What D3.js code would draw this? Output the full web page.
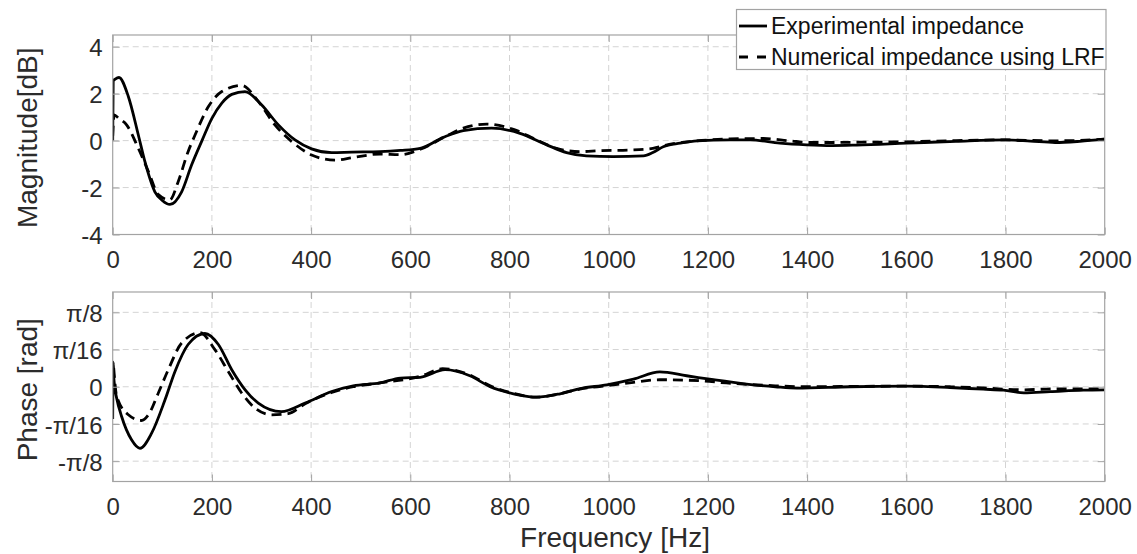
<!DOCTYPE html>
<html>
<head>
<meta charset="utf-8">
<script src="https://cdn.jsdelivr.net/npm/d3@7"></script>
<style>
  html, body { margin: 0; padding: 0; background: #fff; }
  svg { display: block; font-family: "Liberation Sans", Arial, Helvetica, sans-serif; }
</style>
</head>
<body>
<svg id="chart" width="1137" height="554"></svg>
<script>
// ---- data ----
const freqTicks = [0, 200, 400, 600, 800, 1000, 1200, 1400, 1600, 1800, 2000];
const magTicks = [-4, -2, 0, 2, 4];
const phaseTickValues = [-Math.PI / 8, -Math.PI / 16, 0, Math.PI / 16, Math.PI / 8];
const phaseTickLabels = ["-π/8", "-π/16", "0", "π/16", "π/8"];
const seriesNames = ["Experimental impedance", "Numerical impedance using LRF"];

const magExpFreq = [0, 1, 5, 12.7, 31.5, 51.7, 65, 85, 100, 115.5, 139, 159, 180, 200, 220, 240, 266.7, 300, 334, 367.5, 401, 441.5, 482, 539, 580, 620, 666.5, 707, 764, 821, 875, 915, 955, 1009, 1070, 1089, 1110, 1144, 1178, 1245, 1285, 1345, 1399, 1450, 1500, 1600, 1700, 1800, 1850, 1900, 1950, 2000];
const magExpVal = [0, 2.55, 2.62, 2.69, 1.88, 0.24, -0.9, -2.18, -2.55, -2.72, -2.18, -1.04, 0.0, 0.95, 1.6, 1.97, 2.09, 1.53, 0.67, 0.03, -0.35, -0.51, -0.49, -0.47, -0.42, -0.33, 0.14, 0.43, 0.53, 0.31, -0.18, -0.51, -0.65, -0.68, -0.65, -0.51, -0.26, -0.11, -0.01, 0.03, 0.03, -0.11, -0.18, -0.21, -0.19, -0.11, -0.03, 0.03, -0.02, -0.08, -0.03, 0.06];

const magNumFreq = [0, 3, 12, 28, 51.7, 72, 92, 115, 132, 152, 166, 193, 220, 260, 293.5, 327, 361, 401, 448, 485, 539, 580, 620, 673, 707, 754, 808, 855, 895, 942, 982, 1043, 1089, 1122, 1163, 1245, 1312, 1365, 1406, 1453, 1500, 1600, 1700, 1800, 1900, 2000];
const magNumVal = [0.2, 1.1, 0.95, 0.67, -0.33, -1.32, -2.3, -2.53, -1.75, -0.47, 0.24, 1.45, 2.09, 2.35, 1.67, 0.67, -0.04, -0.61, -0.83, -0.72, -0.57, -0.6, -0.37, 0.2, 0.53, 0.70, 0.48, 0.03, -0.33, -0.47, -0.43, -0.40, -0.33, -0.16, -0.04, 0.07, 0.09, -0.01, -0.08, -0.08, -0.07, -0.05, 0.0, 0.03, -0.01, 0.06];

const phExpFreq = [0, 1, 2, 4, 8, 18, 38, 55, 78.5, 105.5, 125.6, 152, 186, 213, 240, 267, 293.5, 340, 388, 441.5, 485, 539, 580, 620, 670, 720, 761, 808, 855, 902, 942, 996, 1050, 1103, 1157, 1211, 1278, 1336, 1379, 1487, 1595, 1688, 1755, 1796, 1837, 1890, 1957, 2000];
const phExpVal = [-0.17, 0.13, 0.06, 0.0, -0.06, -0.157, -0.28, -0.325, -0.245, -0.069, 0.081, 0.223, 0.281, 0.223, 0.09, -0.016, -0.086, -0.131, -0.086, -0.025, 0.005, 0.02, 0.046, 0.05, 0.09, 0.058, 0.0, -0.037, -0.055, -0.037, -0.01, 0.01, 0.04, 0.078, 0.058, 0.037, 0.014, 0.0, -0.007, 0.0, 0.003, -0.004, -0.013, -0.018, -0.032, -0.026, -0.018, -0.016];

const phNumFreq = [2, 8, 31.5, 58, 72, 92, 112, 139, 176, 206, 233, 260, 287, 320, 354, 388, 441.5, 485, 539, 620, 665, 720, 761, 808, 855, 902, 942, 996, 1050, 1103, 1183, 1237, 1336, 1400, 1500, 1600, 1688, 1755, 1796, 1837, 1900, 2000];
const phNumVal = [0.1, -0.05, -0.148, -0.178, -0.148, -0.033, 0.09, 0.231, 0.285, 0.196, 0.081, -0.033, -0.113, -0.148, -0.142, -0.09, -0.03, 0.0, 0.02, 0.055, 0.095, 0.062, 0.005, -0.035, -0.055, -0.037, -0.012, 0.005, 0.023, 0.037, 0.032, 0.02, 0.005, 0.0, 0.002, 0.003, 0.0, -0.006, -0.013, -0.016, -0.011, -0.011];

// ---- layout ----
const svg = d3.select("#chart");
const X0 = 112.7, X1 = 1104.7;
const x = d3.scaleLinear().domain([0, 2000]).range([X0, X1]);
const yMag = d3.scaleLinear().domain([-4, 4.5]).range([234.5, 35]);
const yPh = d3.scaleLinear().domain([-0.5, 0.5]).range([481.5, 292]);

const gridColor = "#d4d4d4";
const boxColor = "#a3a3a3";
const textColor = "#2b2b2b";
const tickFont = 24, labelFont = 28, legendFont = 23;

function zip(a, b) { return a.map((d, i) => [d, b[i]]); }

function panel(yScale, yTicks, yLabels, id, series, yTitle, xTickBaseline) {
  const [yb, yt] = yScale.range();
  const g = svg.append("g");
  g.append("defs").append("clipPath").attr("id", id)
    .append("rect").attr("x", X0).attr("y", yt).attr("width", X1 - X0).attr("height", yb - yt);

  // grid
  g.append("g").selectAll("line").data(freqTicks.slice(1, -1)).join("line")
    .attr("x1", d => x(d)).attr("x2", d => x(d)).attr("y1", yt).attr("y2", yb)
    .attr("stroke", gridColor).attr("stroke-width", 1).attr("stroke-dasharray", "6,4");
  g.append("g").selectAll("line").data(yTicks).join("line")
    .attr("x1", X0).attr("x2", X1).attr("y1", d => yScale(d)).attr("y2", d => yScale(d))
    .attr("stroke", gridColor).attr("stroke-width", 1).attr("stroke-dasharray", "6,4");

  // data
  const line = d3.line().x(d => x(d[0])).y(d => yScale(d[1])).curve(d3.curveMonotoneX);
  const lg = g.append("g").attr("clip-path", `url(#${id})`);
  series.forEach(s => {
    lg.append("path").attr("d", line(s.data)).attr("fill", "none")
      .attr("stroke", "#000").attr("stroke-width", 2.8)
      .attr("stroke-dasharray", s.dash || null).attr("stroke-linejoin", "round");
  });

  // axes via d3 axis (ticks inward)
  const axB = d3.axisBottom(x).tickValues(freqTicks).tickSize(-7).tickFormat(d3.format("d"));
  const axT = d3.axisTop(x).tickValues(freqTicks).tickSize(-7).tickFormat("");
  const axL = d3.axisLeft(yScale).tickValues(yTicks).tickSize(-7).tickPadding(10)
    .tickFormat((d, i) => yLabels[i]);
  const axR = d3.axisRight(yScale).tickValues(yTicks).tickSize(-7).tickFormat("");
  const gb = g.append("g").attr("transform", `translate(0,${yb})`).call(axB);
  const gtp = g.append("g").attr("transform", `translate(0,${yt})`).call(axT);
  const gl = g.append("g").attr("transform", `translate(${X0},0)`).call(axL);
  const gr = g.append("g").attr("transform", `translate(${X1},0)`).call(axR);
  [gb, gtp, gl, gr].forEach(a => {
    a.select(".domain").remove();
    a.selectAll(".tick line").attr("stroke", boxColor).attr("stroke-width", 1);
    a.selectAll("text").attr("fill", textColor).attr("font-size", tickFont)
      .attr("font-family", "'Liberation Sans', Arial, sans-serif");
  });
  gb.selectAll("text").attr("dy", null).attr("y", xTickBaseline - yb);
  gl.selectAll("text").attr("dy", "0.38em");

  // box
  g.append("rect").attr("x", X0).attr("y", yt).attr("width", X1 - X0).attr("height", yb - yt)
    .attr("fill", "none").attr("stroke", boxColor).attr("stroke-width", 1.2);

  // y title
  g.append("text").attr("transform", `translate(37,${(yt + yb) / 2 + 3}) rotate(-90)`)
    .attr("text-anchor", "middle").attr("font-size", labelFont).attr("fill", textColor)
    .text(yTitle);
}

panel(yMag, magTicks, magTicks.map(String), "clipMag", [
  { data: zip(magExpFreq, magExpVal) },
  { data: zip(magNumFreq, magNumVal), dash: "10,6" }
], "Magnitude[dB]", 268);

panel(yPh, phaseTickValues, phaseTickLabels, "clipPh", [
  { data: zip(phExpFreq, phExpVal) },
  { data: zip(phNumFreq, phNumVal), dash: "10,6" }
], "Phase [rad]", 515);

// x title
svg.append("text").attr("x", 615).attr("y", 547).attr("text-anchor", "middle")
  .attr("font-size", labelFont).attr("fill", textColor).text("Frequency [Hz]");

// legend
const lgd = svg.append("g");
lgd.append("rect").attr("x", 736.5).attr("y", 9.5).attr("width", 369.5).attr("height", 60)
  .attr("fill", "#fff").attr("stroke", boxColor).attr("stroke-width", 1.2);
const rows = [{ y: 26, dash: null }, { y: 57, dash: "9,9" }];
rows.forEach((r, i) => {
  lgd.append("line").attr("x1", 739).attr("x2", 767).attr("y1", r.y).attr("y2", r.y)
    .attr("stroke", "#000").attr("stroke-width", 2.8).attr("stroke-dasharray", r.dash);
  lgd.append("text").attr("x", 771).attr("y", r.y).attr("dy", "0.35em")
    .attr("font-size", legendFont).attr("fill", "#111").text(seriesNames[i]);
});
</script>
</body>
</html>
